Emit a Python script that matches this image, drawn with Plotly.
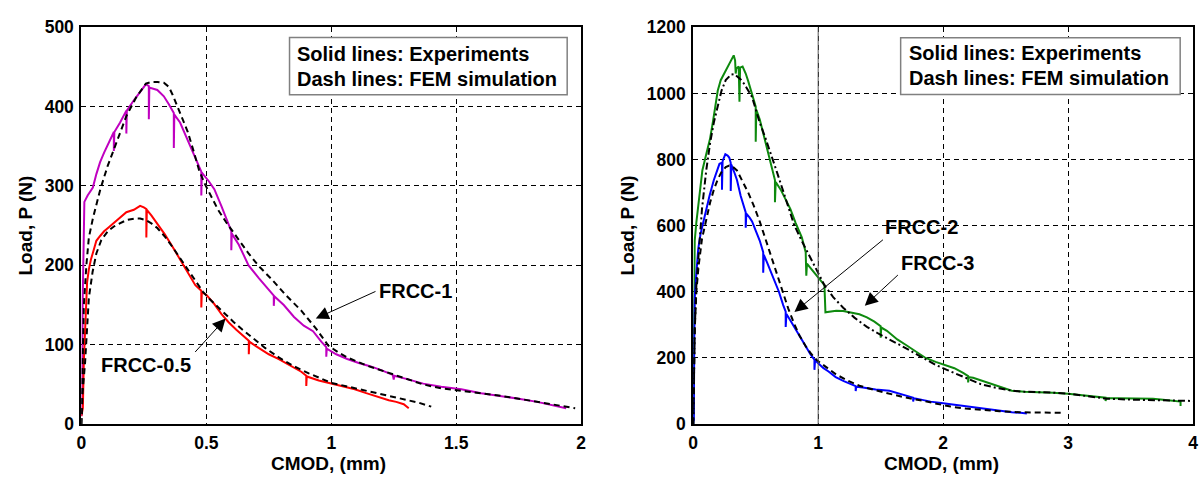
import plotly.graph_objects as go

# ---------------- data ----------------
# Left panel: FRCC-1 experiment (magenta)
frcc1_exp_x = [0, 0.003, 0.005, 0.008, 0.012, 0.025, 0.046, 0.06, 0.075, 0.091, 0.11, 0.13, 0.13, 0.132,
               0.155, 0.18, 0.18, 0.182, 0.21, 0.24, 0.258, 0.27, 0.27, 0.272, 0.304, 0.33, 0.35, 0.37, 0.37,
               0.372, 0.395, 0.42, 0.456, 0.48, 0.48, 0.482, 0.51, 0.532, 0.56, 0.593, 0.6, 0.6, 0.602, 0.63,
               0.669, 0.71, 0.76, 0.77, 0.77, 0.772, 0.81, 0.851, 0.89, 0.927, 0.96, 0.98, 0.98, 0.982, 1.02,
               1.064, 1.11, 1.155, 1.2, 1.246, 1.25, 1.252, 1.3, 1.368, 1.44, 1.52, 1.6, 1.672, 1.75, 1.824,
               1.89, 1.94]
frcc1_exp_y = [10, 20, 150, 230, 280, 288, 298, 315, 330, 342, 355, 368, 344, 368,
               380, 395, 366, 395, 408, 420, 428, 426, 384, 424, 421, 413, 403, 392, 348,
               390, 380, 362, 334, 318, 288, 317, 306, 296, 275, 250, 243, 219, 240, 226,
               200, 184, 166, 162, 149, 161, 150, 135, 124, 117, 104, 97, 85, 95, 88,
               82, 77, 73, 68, 62, 56, 61, 57, 51, 47, 44, 39, 36, 32, 28,
               24, 20]
# Left panel: FRCC-1 FEM (black dashed)
frcc1_fem_x = [0, 0.005, 0.01, 0.02, 0.03, 0.046, 0.076, 0.105, 0.137, 0.18, 0.22, 0.258, 0.28, 0.304,
               0.33, 0.35, 0.365, 0.38, 0.4, 0.426, 0.45, 0.471, 0.495, 0.517, 0.547, 0.578, 0.62, 0.669,
               0.71, 0.76, 0.82, 0.88, 0.94, 0.988, 1.03, 1.064, 1.14, 1.216, 1.29, 1.368, 1.44, 1.52, 1.6,
               1.67, 1.75, 1.82, 1.9, 1.976]
frcc1_fem_y = [0, 80, 150, 200, 235, 259, 296, 325, 352, 388, 412, 429, 431, 431,
               430, 425, 415, 404, 388, 368, 343, 320, 302, 288, 270, 255, 236, 215,
               199, 183, 162, 143, 120, 99, 90, 84, 74, 66, 58, 50, 45, 42, 39,
               36, 32, 28, 24, 20]
# Left panel: FRCC-0.5 experiment (red)
frcc05_exp_x = [0, 0.003, 0.006, 0.01, 0.015, 0.02, 0.023, 0.03, 0.038, 0.05, 0.06, 0.075, 0.091, 0.11,
                0.137, 0.16, 0.18, 0.21, 0.235, 0.25, 0.26, 0.26, 0.262, 0.28, 0.31, 0.334, 0.36, 0.395,
                0.425, 0.456, 0.48, 0.48, 0.482, 0.5, 0.53, 0.56, 0.59, 0.62, 0.66, 0.67, 0.67, 0.672, 0.7,
                0.75, 0.79, 0.84, 0.88, 0.9, 0.9, 0.902, 0.95, 0.988, 1.04, 1.094, 1.14, 1.185, 1.23, 1.26,
                1.29, 1.31]
frcc05_exp_y = [10, 15, 20, 80, 119, 160, 179, 195, 207, 220, 231, 237, 243, 248,
                255, 261, 267, 270, 275, 273, 271, 235, 270, 263, 250, 239, 226, 207,
                191, 175, 168, 147, 166, 163, 152, 139, 128, 119, 108, 105, 88, 104, 98,
                88, 82, 73, 66, 61, 48, 60, 55, 52, 48, 44, 39, 34, 30, 28,
                25, 20]
# Left panel: FRCC-0.5 FEM (black dashed)
frcc05_fem_x = [0, 0.005, 0.015, 0.022, 0.03, 0.045, 0.06, 0.08, 0.106, 0.13, 0.152, 0.18, 0.213, 0.235,
                0.258, 0.28, 0.304, 0.335, 0.365, 0.395, 0.426, 0.456, 0.486, 0.515, 0.547, 0.578, 0.608,
                0.645, 0.684, 0.735, 0.79, 0.85, 0.91, 0.96, 1.0, 1.07, 1.14, 1.21, 1.29, 1.35, 1.4]
frcc05_fem_y = [0, 40, 78, 120, 159, 192, 215, 232, 243, 249, 253, 257, 259, 259,
                257, 253, 247, 236, 223, 209, 195, 181, 167, 157, 147, 138, 129,
                119, 109, 96, 84, 73, 64, 57, 52, 47, 42, 37, 31, 27, 22]

# Right panel: FRCC-3 experiment (green)
frcc3_exp_x = [0, 0.002, 0.005, 0.008, 0.012, 0.025, 0.043, 0.058, 0.073, 0.1, 0.135, 0.16, 0.196, 0.22,
               0.257, 0.28, 0.303, 0.324, 0.335, 0.34, 0.345, 0.364, 0.37, 0.375, 0.395, 0.42, 0.44, 0.471,
               0.5, 0.5, 0.505, 0.532, 0.56, 0.593, 0.625, 0.654, 0.654, 0.66, 0.7, 0.74, 0.777, 0.82, 0.869,
               0.9, 0.905, 0.905, 0.91, 0.95, 0.99, 1.02, 1.05, 1.058, 1.1, 1.144, 1.2, 1.266, 1.33, 1.39,
               1.45, 1.5, 1.5, 1.505, 1.55, 1.633, 1.7, 1.786, 1.86, 1.94, 2.0, 2.09, 2.16, 2.2, 2.2, 2.205,
               2.24, 2.32, 2.4, 2.48, 2.55, 2.65, 2.76, 2.88, 3.0, 3.1, 3.22, 3.3, 3.3, 3.305, 3.4, 3.53,
               3.68, 3.76, 3.83, 3.88, 3.9, 3.9]
frcc3_exp_y = [0, 120, 350, 470, 555, 610, 671, 720, 767, 810, 864, 920, 1008, 1040,
               1066, 1080, 1096, 1115, 1100, 1060, 1075, 1081, 975, 1078, 1081, 1060, 1037, 999,
               960, 854, 950, 922, 880, 835, 785, 738, 671, 732, 709, 680, 651, 608, 565,
               520, 487, 449, 485, 466, 449, 436, 420, 338, 340, 343, 342, 338, 332, 323,
               310, 296, 261, 292, 282, 256, 240, 217, 200, 188, 180, 169, 155, 145, 126, 142,
               140, 130, 121, 110, 101, 98, 97, 95, 92, 88, 82, 80, 70, 78, 78, 77,
               77, 74, 72, 70, 68, 55]
# Right panel: FRCC-3 FEM (black dash-dot)
frcc3_fem_x = [0, 0.004, 0.012, 0.025, 0.043, 0.07, 0.104, 0.135, 0.165, 0.196, 0.226, 0.26, 0.303, 0.33,
               0.35, 0.38, 0.41, 0.44, 0.471, 0.5, 0.532, 0.578, 0.624, 0.67, 0.716, 0.76, 0.807, 0.87, 0.93,
               0.99, 1.05, 1.12, 1.2, 1.29, 1.39, 1.48, 1.575, 1.67, 1.76, 1.85, 1.94, 2.03, 2.12, 2.21,
               2.3, 2.42, 2.55, 2.65, 2.76, 2.88, 3.0, 3.15, 3.31, 3.5, 3.68, 3.85, 4.0]
frcc3_fem_y = [0, 150, 285, 420, 526, 650, 767, 850, 912, 965, 1008, 1040, 1057, 1058,
               1052, 1042, 1028, 1010, 989, 952, 912, 865, 816, 762, 709, 655, 603, 553, 507,
               462, 420, 384, 352, 322, 294, 274, 256, 236, 217, 198, 179, 164, 150, 135,
               121, 110, 101, 98, 97, 95, 92, 84, 77, 74, 72, 71, 70]
# Right panel: FRCC-2 experiment (blue)
frcc2_exp_x = [0, 0.003, 0.005, 0.008, 0.012, 0.02, 0.028, 0.04, 0.058, 0.08, 0.104, 0.13, 0.165, 0.19,
               0.21, 0.23, 0.23, 0.235, 0.257, 0.275, 0.288, 0.3, 0.3, 0.305, 0.33, 0.35, 0.38, 0.41, 0.42,
               0.42, 0.425, 0.45, 0.471, 0.5, 0.532, 0.56, 0.56, 0.565, 0.593, 0.64, 0.685, 0.72, 0.74, 0.74,
               0.746, 0.78, 0.807, 0.85, 0.899, 0.94, 0.97, 0.97, 0.975, 0.99, 1.04, 1.083, 1.14, 1.205,
               1.28, 1.3, 1.3, 1.305, 1.358, 1.46, 1.57, 1.68, 1.76, 1.76, 1.765, 1.786, 1.9, 2.0, 2.1,
               2.18, 2.3, 2.4, 2.5, 2.55, 2.62, 2.67]
frcc2_exp_y = [0, 20, 10, 250, 381, 430, 478, 530, 574, 610, 652, 690, 738, 765,
               787, 790, 709, 795, 816, 812, 806, 790, 705, 785, 760, 738, 690, 652, 640,
               594, 636, 625, 613, 585, 555, 520, 458, 512, 487, 445, 401, 360, 340, 294,
               333, 312, 294, 265, 236, 210, 195, 164, 192, 188, 170, 159, 142, 130,
               118, 115, 100, 113, 111, 105, 101, 88, 80, 68, 78, 77, 68, 63, 58,
               53, 47, 43, 39, 36, 34, 32]
# Right panel: FRCC-2 FEM (black dashed)
frcc2_fem_x = [0, 0.004, 0.012, 0.025, 0.043, 0.07, 0.104, 0.135, 0.165, 0.196, 0.226, 0.26, 0.288, 0.32,
               0.35, 0.39, 0.44, 0.485, 0.532, 0.578, 0.624, 0.67, 0.716, 0.76, 0.807, 0.85, 0.899, 0.945,
               0.99, 1.07, 1.144, 1.24, 1.33, 1.45, 1.57, 1.69, 1.817, 1.94, 2.06, 2.18, 2.3, 2.45, 2.61,
               2.78, 2.95]
frcc2_fem_y = [0, 130, 285, 400, 478, 560, 623, 670, 709, 740, 762, 777, 782, 777,
               767, 738, 700, 660, 613, 560, 507, 453, 401, 350, 304, 268, 236, 212,
               193, 170, 150, 131, 116, 103, 92, 81, 72, 62, 53, 47, 43, 39, 36,
               35, 34]

# axis ticks
left_xticks = [0, 0.5, 1, 1.5, 2]
left_yticks = [0, 100, 200, 300, 400, 500]
right_xticks = [0, 1, 2, 3, 4]
right_yticks = [0, 200, 400, 600, 800, 1000, 1200]

legend_lines = ["Solid lines: Experiments", "Dash lines: FEM simulation"]

# ---------------- figure ----------------
FONT = "Arial, Liberation Sans, sans-serif"
W, H = 1203, 483

def px(x):
    return x / W

def py(y):
    return (H - y) / H

fig = go.Figure()

def add_line(x, y, color, dash, xa, ya, width=2):
    fig.add_trace(go.Scatter(x=x, y=y, mode="lines", xaxis=xa, yaxis=ya,
                             line=dict(color=color, width=width, dash=dash),
                             showlegend=False, hoverinfo="skip"))

# left panel
add_line(frcc1_exp_x, frcc1_exp_y, "#C000C0", "solid", "x", "y")
add_line(frcc05_exp_x, frcc05_exp_y, "#FF0000", "solid", "x", "y")
add_line(frcc1_fem_x, frcc1_fem_y, "black", "6px,4px", "x", "y")
add_line(frcc05_fem_x, frcc05_fem_y, "black", "6px,4px", "x", "y")
# right panel
add_line(frcc3_exp_x, frcc3_exp_y, "#0E8A0E", "solid", "x2", "y2")
add_line(frcc2_exp_x, frcc2_exp_y, "#0000FF", "solid", "x2", "y2")
add_line(frcc3_fem_x, frcc3_fem_y, "black", "7px,3px,2px,3px", "x2", "y2")
add_line(frcc2_fem_x, frcc2_fem_y, "black", "6px,4px", "x2", "y2")

axis_common = dict(showline=True, linecolor="black", linewidth=2, mirror=True,
                   showgrid=True, gridcolor="black", gridwidth=1, griddash="5px,4px",
                   zeroline=False, ticks="",
                   tickfont=dict(family=FONT, size=17.5, color="black", weight="bold"))

fig.update_layout(
    width=W, height=H,
    margin=dict(l=0, r=0, t=0, b=0),
    plot_bgcolor="white", paper_bgcolor="white",
    xaxis=dict(domain=[px(77), px(581)], range=[0, 2], tickvals=left_xticks,
               ticktext=[f"{v:g}" for v in left_xticks], anchor="y",
               ticklabelstandoff=2, **axis_common),
    yaxis=dict(domain=[py(432), py(18)], range=[0, 500], tickvals=left_yticks,
               ticktext=[str(v) for v in left_yticks], anchor="x",
               ticklabelstandoff=2, **axis_common),
    xaxis2=dict(domain=[px(694), px(1198)], range=[0, 4], tickvals=right_xticks,
                ticktext=[str(v) for v in right_xticks], anchor="y2",
                ticklabelstandoff=2, **axis_common),
    yaxis2=dict(domain=[py(432), py(18)], range=[0, 1200], tickvals=right_yticks,
                ticktext=[str(v) for v in right_yticks], anchor="x2",
                ticklabelstandoff=2, **axis_common),
)

# solid vertical gridline at x=1 on right panel
fig.add_shape(type="line", xref="x2", yref="y2", x0=1, x1=1, y0=0, y1=1200,
              line=dict(color="#555555", width=1), layer="above")

# legend boxes
boxes = [("x", "y", 0.833, 1.944, 415, 487, 0.855, 466, 435),
         ("x2", "y2", 1.66, 3.897, 997, 1168, 1.71, 1121, 1046)]
for xr, yr, x0, x1, y0, y1, tx, ty1, ty2 in boxes:
    fig.add_shape(type="rect", xref=xr, yref=yr, x0=x0, x1=x1, y0=y0, y1=y1,
                  line=dict(color="#808080", width=1.5), fillcolor="white", layer="above")
    for t, ty in zip(legend_lines, [ty1, ty2]):
        fig.add_annotation(xref=xr, yref=yr, x=tx, y=ty, text=t, showarrow=False,
                           xanchor="left", yanchor="middle",
                           font=dict(family=FONT, size=20, color="black", weight="bold"))

lab_font = dict(family=FONT, size=20, color="black", weight="bold")
# curve labels
labels = [("x", "y", 1.337, 168, "FRCC-1"), ("x", "y", 0.258, 75, "FRCC-0.5"),
          ("x2", "y2", 1.83, 595, "FRCC-2"), ("x2", "y2", 1.955, 487, "FRCC-3")]
for xr, yr, x, y, t in labels:
    fig.add_annotation(xref=xr, yref=yr, x=x, y=y, text=t, showarrow=False,
                       xanchor="center", yanchor="middle", font=lab_font)

# arrows (tip, tail)
arrows = [("x", "y", 0.938, 133, 1.183, 168), ("x", "y", 0.577, 133, 0.45, 89),
          ("x2", "y2", 0.81, 339, 1.53, 561), ("x2", "y2", 1.373, 358, 1.65, 455)]
for xr, yr, x, y, ax, ay in arrows:
    fig.add_annotation(xref=xr, yref=yr, x=x, y=y, ax=ax, ay=ay, axref=xr, ayref=yr,
                       text="", showarrow=True, arrowhead=2, arrowsize=2.6,
                       arrowwidth=1, arrowcolor="black")

# axis titles
title_font = dict(family=FONT, size=19, color="black", weight="bold")
fig.add_annotation(xref="paper", yref="paper", x=px(326), y=py(473), text="CMOD, (mm)",
                   showarrow=False, font=title_font, xanchor="center", yanchor="middle")
fig.add_annotation(xref="paper", yref="paper", x=px(944), y=py(473), text="CMOD, (mm)",
                   showarrow=False, font=title_font, xanchor="center", yanchor="middle")
fig.add_annotation(xref="paper", yref="paper", x=px(21), y=py(225), text="Load, P (N)",
                   showarrow=False, font=title_font, textangle=-90,
                   xanchor="center", yanchor="middle")
fig.add_annotation(xref="paper", yref="paper", x=px(628), y=py(225), text="Load, P (N)",
                   showarrow=False, font=title_font, textangle=-90,
                   xanchor="center", yanchor="middle")

fig.write_html("out.html")
